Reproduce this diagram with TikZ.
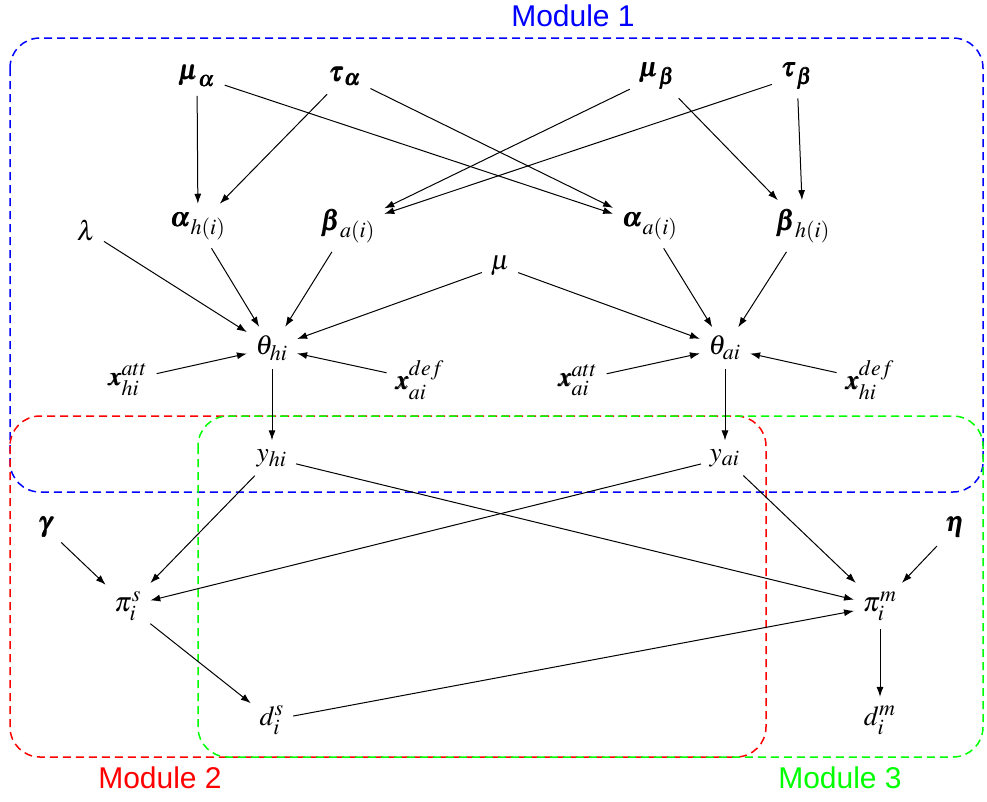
\documentclass[tikz,border=0pt]{standalone}
\usepackage{amsmath}
\usepackage{mathptmx}
\usepackage{bm}
\usepackage[no-math]{fontspec}
\newfontfamily\modfont{Liberation Sans}
\DeclareMathSizes{11}{11}{8.8}{7}
\usetikzlibrary{arrows.meta}
\begin{document}
\begin{tikzpicture}[x=0.4pt,y=-0.4pt,
  v/.style={inner sep=1.5pt,outer sep=2pt,font=\fontsize{11}{13}\selectfont},
  e/.style={-{Latex[length=4pt,width=2.8pt]},line width=0.4pt},
  modbox/.style={dash pattern=on 3.2pt off 2pt,line width=0.6pt,rounded corners=12pt},
  modlab/.style={font=\modfont\fontsize{12}{14}\selectfont,inner sep=0pt}]
\useasboundingbox (0,0) rectangle (987,801);
% module boxes
\draw[modbox,blue] (10,38) rectangle (983,492);
\draw[modbox,red] (10,416) rectangle (766,757);
\draw[modbox,green] (198,416) rectangle (983,757);
\node[modlab,blue] (m1) at (573,16) {Module 1};
\node[modlab,red] (m2) at (160,778) {Module 2};
\node[modlab,green] (m3) at (840,778) {Module 3};
% nodes
\node[v] (mua) at (197,76) {$\bm{\mu}_{\bm{\alpha}}$};
\node[v] (taua) at (345,76) {$\bm{\tau}_{\bm{\alpha}}$};
\node[v] (mub) at (657,76) {$\bm{\mu}_{\bm{\beta}}$};
\node[v] (taub) at (797,76) {$\bm{\tau}_{\bm{\beta}}$};
\node[v] (alh) at (198,226) {$\bm{\alpha}_{h(i)}$};
\node[v] (bea) at (348,226) {$\bm{\beta}_{a(i)}$};
\node[v] (ala) at (650,226) {$\bm{\alpha}_{a(i)}$};
\node[v] (beh) at (803,226) {$\bm{\beta}_{h(i)}$};
\node[v] (lam) at (86,230) {$\lambda$};
\node[v] (mu) at (500,266) {$\mu$};
\node[v] (thh) at (272,348) {$\theta_{hi}$};
\node[v] (tha) at (725,348) {$\theta_{ai}$};
\node[v] (xah) at (128,380) {$\bm{x}_{hi}^{att}$};
\node[v] (xda) at (420,380) {$\bm{x}_{ai}^{def}$};
\node[v] (xaa) at (578,380) {$\bm{x}_{ai}^{att}$};
\node[v] (xdh) at (870,380) {$\bm{x}_{hi}^{def}$};
\node[v] (yh) at (272,458) {$y_{hi}$};
\node[v] (ya) at (725,458) {$y_{ai}$};
\node[v] (gam) at (45,527) {$\bm{\gamma}$};
\node[v] (eta) at (955,527) {$\bm{\eta}$};
\node[v] (pis) at (128,606) {$\pi_i^s$};
\node[v] (pim) at (880,606) {$\pi_i^m$};
\node[v] (ds) at (272,720) {$d_i^s$};
\node[v] (dm) at (880,720) {$d_i^m$};
% edges
\draw[e] (mua) -- (alh);
\draw[e] (mua) -- (ala);
\draw[e] (taua) -- (alh);
\draw[e] (taua) -- (ala);
\draw[e] (mub) -- (bea);
\draw[e] (mub) -- (beh);
\draw[e] (taub) -- (bea);
\draw[e] (taub) -- (beh);
\draw[e] (lam) -- (thh);
\draw[e] (alh) -- (thh);
\draw[e] (bea) -- (thh);
\draw[e] (mu) -- (thh);
\draw[e] (mu) -- (tha);
\draw[e] (ala) -- (tha);
\draw[e] (beh) -- (tha);
\draw[e] (xah) -- (thh);
\draw[e] (xda) -- (thh);
\draw[e] (xaa) -- (tha);
\draw[e] (xdh) -- (tha);
\draw[e] (thh) -- (yh);
\draw[e] (tha) -- (ya);
\draw[e] (yh) -- (pis);
\draw[e] (yh) -- (pim);
\draw[e] (ya) -- (pis);
\draw[e] (ya) -- (pim);
\draw[e] (gam) -- (pis);
\draw[e] (eta) -- (pim);
\draw[e] (pis) -- (ds);
\draw[e] (ds) -- (pim);
\draw[e] (pim) -- (dm);
\end{tikzpicture}
\end{document}
